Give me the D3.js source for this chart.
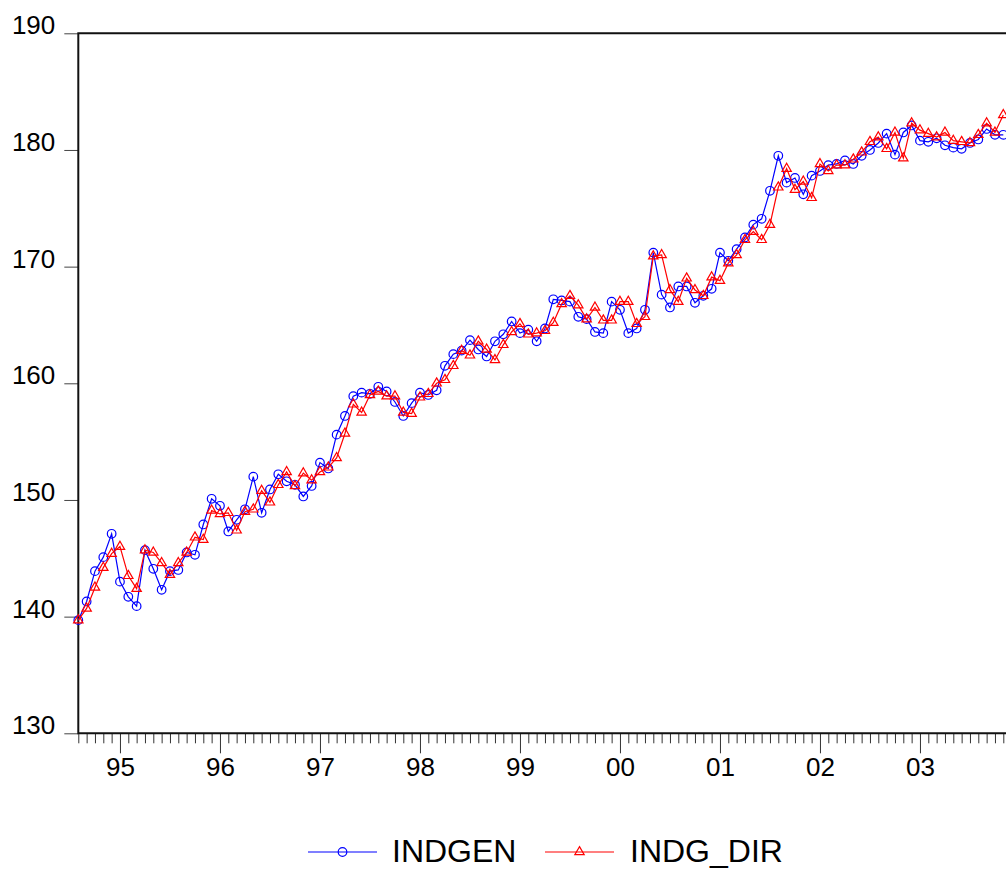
<!DOCTYPE html>
<html>
<head>
<meta charset="utf-8">
<script src="https://cdn.jsdelivr.net/npm/d3@7"></script>
<style>
    body { margin: 0; background: #fff; }
    svg { display: block; font-family: "Liberation Sans", Arial, sans-serif; }
</style>
</head>
<body>
<svg width="1006" height="869"></svg>
<script>
// monthly data, first observation 1994M08
const startYear = 1994;
const startMonth = 8;

const indgen = [
    139.7, 141.3, 143.9, 145.1, 147.1, 143.0, 141.7, 140.9, 145.7, 144.1,
    142.3, 143.9, 144.0, 145.5, 145.3, 147.9, 150.1, 149.5, 147.3, 148.3,
    149.2, 152.0, 148.9, 150.9, 152.2, 151.6, 151.3, 150.3, 151.2, 153.2,
    152.7, 155.6, 157.2, 158.9, 159.2, 159.1, 159.7, 159.3, 158.4, 157.2,
    158.3, 159.2, 159.0, 159.4, 161.5, 162.5, 162.8, 163.7, 162.9, 162.3,
    163.6, 164.2, 165.3, 164.3, 164.6, 163.6, 164.7, 167.2, 167.1, 167.0,
    165.7, 165.5, 164.4, 164.3, 167.0, 166.3, 164.3, 164.7, 166.3, 171.2,
    167.6, 166.5, 168.3, 168.3, 166.9, 167.5, 168.1, 171.2, 170.5, 171.5,
    172.5, 173.6, 174.1, 176.5, 179.5, 177.2, 177.6, 176.2, 177.8, 178.2,
    178.7, 178.8, 179.1, 178.8, 179.5, 180.0, 180.6, 181.4, 179.6, 181.5,
    182.1, 180.8, 180.7, 181.0, 180.4, 180.2, 180.1, 180.6, 180.9, 181.8,
    181.3, 181.3
];

const indgDir = [
    139.7, 140.7, 142.5, 144.2, 145.4, 146.0, 143.5, 142.4, 145.7, 145.5,
    144.6, 143.6, 144.6, 145.5, 146.8, 146.6, 149.1, 148.8, 148.9, 147.4,
    149.0, 149.2, 150.8, 149.8, 151.3, 152.4, 151.2, 152.3, 151.7, 152.4,
    152.8, 153.6, 155.7, 158.2, 157.5, 159.0, 159.3, 158.9, 158.9, 157.5,
    157.4, 158.8, 159.1, 160.0, 160.3, 161.5, 162.8, 162.4, 163.6, 162.9,
    162.0, 163.3, 164.4, 165.1, 164.2, 164.3, 164.5, 165.2, 166.8, 167.5,
    166.7, 165.5, 166.5, 165.4, 165.4, 167.0, 167.0, 165.1, 165.7, 170.9,
    171.0, 168.0, 167.0, 169.0, 168.0, 167.5, 169.1, 168.8, 170.3, 171.0,
    172.3, 173.0, 172.3, 173.6, 176.8, 178.4, 176.6, 177.3, 175.9, 178.8,
    178.2, 178.7, 178.7, 179.2, 179.8, 180.7, 181.1, 180.1, 181.5, 179.3,
    182.3, 181.7, 181.4, 181.1, 181.5, 180.8, 180.7, 180.6, 181.3, 182.3,
    181.5, 183.0
];

const yTicks = [130, 140, 150, 160, 170, 180, 190];
const seriesNames = ["INDGEN", "INDG_DIR"];
const seriesColors = ["#0000ff", "#ff0000"];
const seriesMarkers = ["circle", "triangle"];

// периоды наблюдений (год, месяц)
function createPeriods(n) {
    let arr = [];
    for (let i = 0; i < n; i++) {
        let m = startMonth - 1 + i;
        arr.push({ index: i, year: startYear + Math.floor(m / 12), month: m % 12 + 1 });
    }
    return arr;
}

function drawChart() {
    const svg = d3.select("svg");
    const periods = createPeriods(indgen.length);

    attr_area = {
        left: 78.3,
        right: 1003.3,
        top: 33.3,
        bottom: 733.3
    };

    const scX = d3.scalePoint()
        .domain(periods.map(d => d.index))
        .range([attr_area.left, attr_area.right]);

    const scY = d3.scaleLinear()
        .domain([130, 190])
        .range([attr_area.bottom, attr_area.top]);

    // оси
    const axisX = d3.axisBottom(scX)
        .tickValues(periods.map(d => d.index))
        .tickSize(10)
        .tickFormat(d => periods[d].month == 1 ? String(periods[d].year % 100).padStart(2, "0") : "");

    const gx = svg.append("g")
        .attr("transform", `translate(0, ${attr_area.bottom})`)
        .call(axisX);
    gx.select(".domain").remove();
    gx.selectAll(".tick line")
        .attr("y2", d => periods[d].month == 1 ? 20 : 10)
        .attr("stroke", "#333");
    gx.selectAll(".tick text")
        .attr("y", 24)
        .attr("dy", "0.71em")
        .style("font-size", "26px")
        .style("font-family", "'Liberation Sans', Arial, sans-serif")
        .attr("fill", "#000");

    const axisY = d3.axisLeft(scY)
        .tickValues(yTicks)
        .tickSize(14)
        .tickPadding(9);

    const gy = svg.append("g")
        .attr("transform", `translate(${attr_area.left}, 0)`)
        .call(axisY);
    gy.select(".domain").remove();
    gy.selectAll(".tick line").attr("stroke", "#444");
    gy.selectAll(".tick text")
        .attr("dy", "0.02em")
        .style("font-size", "26px")
        .style("font-family", "'Liberation Sans', Arial, sans-serif")
        .attr("fill", "#000");

    // рамка: верх, лево, низ
    svg.append("path")
        .attr("d", `M${attr_area.right + 10},${attr_area.top}H${attr_area.left}V${attr_area.bottom}H${attr_area.right + 10}`)
        .attr("fill", "none")
        .attr("stroke", "#111")
        .attr("stroke-width", 2);

    const allSeries = [indgen, indgDir];
    allSeries.forEach((values, k) => {
        const line = d3.line()
            .x((d, i) => scX(i))
            .y(d => scY(d));

        svg.append("path")
            .datum(values)
            .attr("d", line)
            .attr("fill", "none")
            .attr("stroke", seriesColors[k])
            .attr("stroke-width", 1.2);

        drawMarkers(svg, values.map((v, i) => [scX(i), scY(v)]), k);
    });

    drawLegend(svg);
}

function markerPath(kind) {
    if (kind == "circle") return d3.symbol().type(d3.symbolCircle).size(Math.PI * 4.3 * 4.3)();
    return d3.symbol().type(d3.symbolTriangle).size(38)();
}

function drawMarkers(svg, points, k) {
    svg.append("g")
        .selectAll("path")
        .data(points)
        .enter()
        .append("path")
        .attr("d", markerPath(seriesMarkers[k]))
        .attr("transform", d => `translate(${d[0]}, ${d[1]})`)
        .attr("fill", "none")
        .attr("stroke", seriesColors[k])
        .attr("stroke-width", 1.2);
}

function drawLegend(svg) {
    const items = [
        { x1: 308, x2: 377, tx: 392 },
        { x1: 545, x2: 614, tx: 630 }
    ];
    const ly = 852;
    items.forEach((it, k) => {
        svg.append("line")
            .attr("x1", it.x1).attr("x2", it.x2)
            .attr("y1", ly).attr("y2", ly)
            .attr("stroke", seriesColors[k])
            .attr("stroke-width", 1.2);
        svg.append("path")
            .attr("d", markerPath(seriesMarkers[k]))
            .attr("transform", `translate(${(it.x1 + it.x2) / 2}, ${ly})`)
            .attr("fill", "none")
            .attr("stroke", seriesColors[k])
            .attr("stroke-width", 1.2);
        svg.append("text")
            .attr("x", it.tx)
            .attr("y", 862)
            .style("font-size", "32px")
            .attr("fill", "#000")
            .text(seriesNames[k]);
    });
}

drawChart();
</script>
</body>
</html>
